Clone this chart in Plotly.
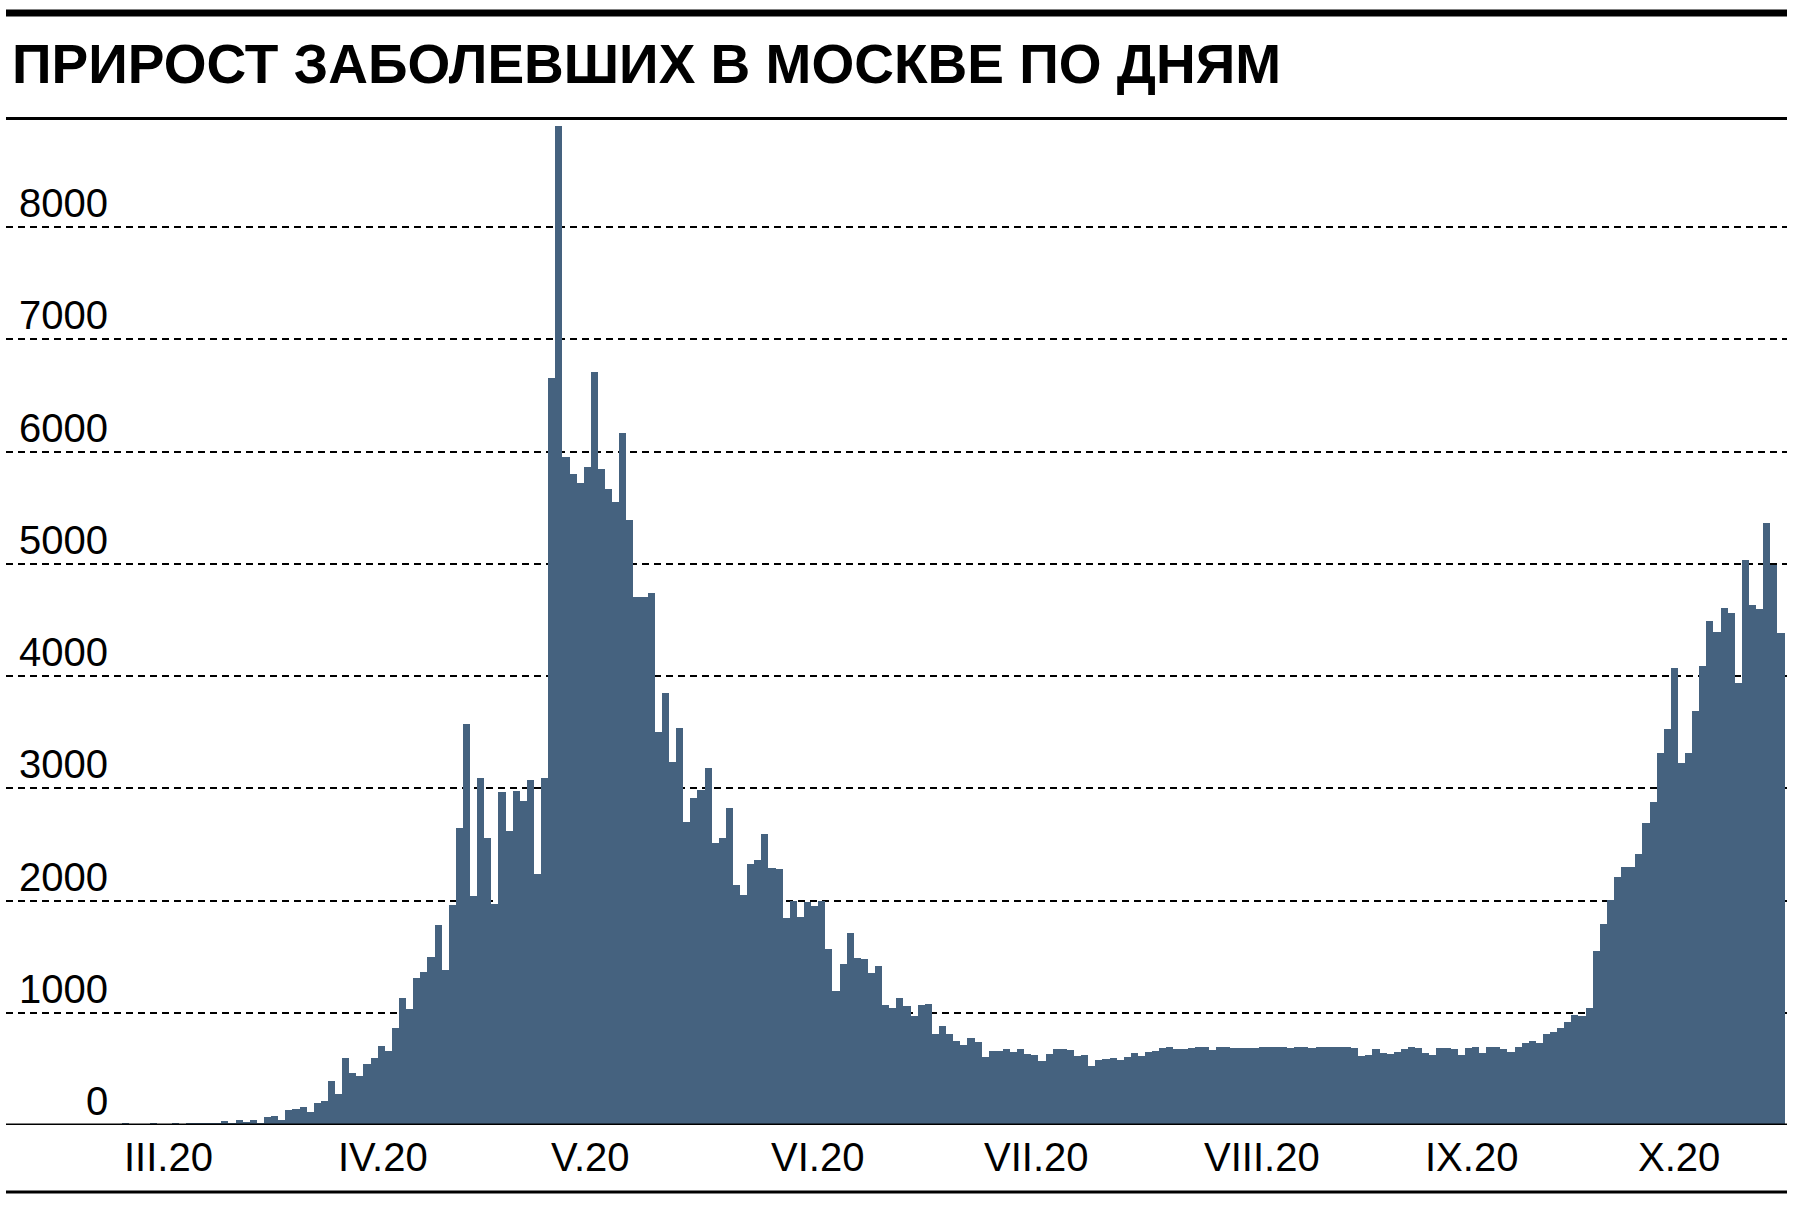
import pandas as pd
import plotly.graph_objects as go

# ---------------- data ----------------
start_date = "2020-03-02"
new_cases = [
    15, 0, 0, 0, 20, 0, 0, 15, 3, 18,
    18, 20, 22, 12, 33, 15, 47, 27, 45, 21,
    68, 83, 42, 130, 142, 160, 120, 200, 218, 392,
    272, 600, 460, 440, 545, 597, 700, 662, 860, 1130,
    1038, 1311, 1364, 1495, 1779, 1382, 1963, 2651, 3576, 2040,
    3090, 2556, 1969, 2966, 2622, 2977, 2883, 3078, 2236, 3096,
    6655, 8900, 5949, 5801, 5724, 5860, 6708, 5843, 5664, 5554,
    6168, 5387, 4703, 4707, 4743, 3505, 3847, 3234, 3541, 2698,
    2914, 2986, 3185, 2514, 2554, 2824, 2140, 2054, 2329, 2365,
    2590, 2293, 2284, 1842, 1995, 1856, 1986, 1955, 1995, 1568,
    1198, 1434, 1712, 1490, 1475, 1358, 1415, 1066, 1042, 1134,
    1057, 967, 1066, 1081, 809, 884, 812, 749, 716, 779,
    743, 609, 660, 657, 678, 648, 681, 630, 621, 567,
    633, 675, 675, 669, 615, 626, 530, 576, 585, 593,
    582, 605, 641, 611, 650, 656, 682, 694, 677, 674,
    682, 694, 691, 668, 694, 691, 688, 685, 685, 688,
    691, 694, 691, 691, 688, 691, 694, 688, 691, 694,
    691, 691, 691, 688, 616, 627, 680, 642, 636, 654,
    678, 692, 683, 639, 627, 689, 689, 675, 621, 689,
    692, 642, 695, 698, 675, 651, 695, 728, 751, 731,
    808, 825, 861, 914, 976, 970, 1045, 1552, 1788, 2008,
    2208, 2299, 2303, 2417, 2695, 2876, 3316, 3528, 4071, 3222,
    3316, 3690, 4094, 4491, 4389, 4605, 4562, 3937, 5037, 4637,
    4601, 5363, 4986, 4381,
]
month_label_dates = ["2020-03-02", "2020-04-01", "2020-05-01", "2020-06-01",
                     "2020-07-01", "2020-08-01", "2020-09-01", "2020-10-01"]
month_labels = ["III.20", "IV.20", "V.20", "VI.20", "VII.20", "VIII.20", "IX.20", "X.20"]
y_tick_values = [0, 1000, 2000, 3000, 4000, 5000, 6000, 7000, 8000]
y_tick_labels = ["0", "1000", "2000", "3000", "4000", "5000", "6000", "7000", "8000"]
title_text = "ПРИРОСТ ЗАБОЛЕВШИХ В МОСКВЕ ПО ДНЯМ"

# ---------------- style ----------------
BAR_COLOR = "rgb(69,98,127)"
INK = "#000000"
W, H = 1796, 1206
M_L, M_R, M_T, M_B = 6, 9, 115, 81
PLOT_H = H - M_T - M_B
Y_MAX = 9000
TICK_FONT = dict(family="Liberation Sans, Arial, sans-serif", size=40, color=INK)


def paper_y(px):
    """convert a pixel row of the page to paper coordinates"""
    return (H - M_B - px) / PLOT_H


dates = pd.date_range(start_date, periods=len(new_cases), freq="D")
x_start = pd.Timestamp(start_date) - pd.Timedelta(days=16.81)
x_end = pd.Timestamp(start_date) + pd.Timedelta(days=233.85)

fig = go.Figure(
    go.Bar(
        x=dates,
        y=new_cases,
        marker=dict(color=BAR_COLOR, line=dict(width=0)),
        hoverinfo="x+y",
    )
)

fig.update_layout(
    width=W,
    height=H,
    margin=dict(l=M_L, r=M_R, t=M_T, b=M_B, pad=0),
    plot_bgcolor="white",
    paper_bgcolor="white",
    bargap=0,
    showlegend=False,
)
fig.update_xaxes(
    type="date",
    range=[x_start.isoformat(), x_end.isoformat()],
    showgrid=False,
    showticklabels=False,
    ticks="",
    zeroline=False,
    showline=False,
)
fig.update_yaxes(
    range=[0, Y_MAX],
    tickvals=y_tick_values[1:],
    showticklabels=False,
    ticks="",
    showgrid=True,
    gridcolor=INK,
    gridwidth=2,
    griddash="7px,5px",
    zeroline=False,
    showline=False,
)

shapes = [
    # thick top rule
    dict(type="rect", xref="paper", yref="paper", x0=0, x1=1,
         y0=paper_y(16.5), y1=paper_y(9.5), fillcolor=INK, line=dict(width=0)),
    # thin rule under the title
    dict(type="line", xref="paper", yref="paper", x0=0, x1=1,
         y0=paper_y(118.5), y1=paper_y(118.5), line=dict(color=INK, width=3)),
    # baseline
    dict(type="line", xref="paper", yref="y", x0=0, x1=1, y0=0, y1=0,
         line=dict(color=INK, width=3), layer="above"),
    # bottom rule
    dict(type="line", xref="paper", yref="paper", x0=0, x1=1,
         y0=paper_y(1192), y1=paper_y(1192), line=dict(color=INK, width=3)),
]
fig.update_layout(shapes=shapes)

annotations = [
    dict(text=title_text, xref="paper", yref="paper", x=0, y=paper_y(63.8),
         xanchor="left", yanchor="middle", xshift=4, showarrow=False,
         font=dict(family="Liberation Sans, Arial, sans-serif", size=55,
                   color=INK, weight="bold")),
]
for val, lab in zip(y_tick_values, y_tick_labels):
    annotations.append(dict(text=lab, xref="paper", yref="y", x=0, y=val,
                            xanchor="right", yanchor="middle", xshift=104, yshift=24,
                            showarrow=False, font=TICK_FONT))
for d, lab in zip(month_label_dates, month_labels):
    annotations.append(dict(text=lab, xref="x", yref="y", x=d, y=0,
                            xanchor="left", yanchor="middle", xshift=-3, yshift=-32,
                            showarrow=False, font=TICK_FONT))
fig.update_layout(annotations=annotations)

fig.write_html("out.html", config={"displayModeBar": False},
               post_script="document.body.style.margin='0';")
